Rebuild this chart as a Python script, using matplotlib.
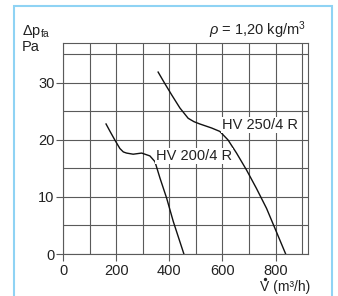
import matplotlib
matplotlib.use("Agg")
import matplotlib.pyplot as plt
from matplotlib.patches import Rectangle
from matplotlib.lines import Line2D

plt.rcParams['font.family'] = ['Liberation Sans', 'DejaVu Sans']
plt.rcParams['mathtext.fontset'] = 'custom'
plt.rcParams['mathtext.rm'] = 'Liberation Sans'
plt.rcParams['mathtext.it'] = 'Liberation Sans:italic'

# data
hv200_x = [162, 177, 195, 214, 227, 239, 264, 296, 327, 346, 365, 390, 415, 455]
hv200_y = [22.8, 21.5, 20.0, 18.5, 17.9, 17.7, 17.5, 17.7, 17.2, 16.2, 13.3, 9.8, 5.7, 0.0]
hv250_x = [358, 383, 409, 440, 471, 493, 515, 559, 590, 621, 653, 691, 728, 766, 803, 838]
hv250_y = [31.9, 29.9, 27.9, 25.6, 23.8, 23.2, 22.8, 22.1, 21.5, 20.0, 17.7, 14.7, 11.5, 8.0, 3.9, 0.0]
xticks = [0, 200, 400, 600, 800]
yticks = [0, 10, 20, 30]
labels = ["HV 200/4 R", "HV 250/4 R"]

fig = plt.figure(figsize=(3.38, 2.96), dpi=100)
fig.patches.append(Rectangle((13.5/338, -0.1), (331.5-13.5)/338, 1.1 - 5.5/296,
                             transform=fig.transFigure, fill=False,
                             edgecolor='#8fd3f4', linewidth=1.5))
ax = fig.add_axes([63/338, (296-254)/296, (308-63)/338, (254-43)/296])
ax.set_xlim(0, 922)
ax.set_ylim(0, 37)
ax.set_xticks(xticks)
ax.set_xticks([100, 300, 500, 700, 900], minor=True)
ax.set_yticks(yticks)
ax.set_yticks([5, 15, 25, 35], minor=True)
ax.grid(True, which='both', color='#5a5a5a', linewidth=0.8)
ax.tick_params(which='minor', length=0)
ax.tick_params(which='major', length=5, width=0.8, color='#5a5a5a', labelsize=10.5,
               labelcolor='#222222')
ax.tick_params(axis='y', pad=1)
ax.tick_params(axis='x', pad=2)
for s in ax.spines.values():
    s.set_color('#5a5a5a')
    s.set_linewidth(0.8)

ax.plot(hv200_x, hv200_y, color='#111111', linewidth=1.0, solid_joinstyle='round')
ax.plot(hv250_x, hv250_y, color='#111111', linewidth=1.0, solid_joinstyle='round')
ax.text(350, 17.2, labels[0], fontsize=10.5, color='#222222', va='center', ha='left',
        bbox=dict(facecolor='white', edgecolor='none', pad=0.5))
ax.text(597, 22.6, labels[1], fontsize=10.5, color='#222222', va='center', ha='left',
        bbox=dict(facecolor='white', edgecolor='none', pad=0.5))

fig.text(22/338, 1 - 35/296, r'$\Delta$p$_{\mathregular{fa}}$', fontsize=10.5, color='#222222',
         va='baseline')
fig.text(22/338, 1 - 51/296, 'Pa', fontsize=10.5, color='#222222', va='baseline')
fig.text(306/338, 1 - 35/296, r'$\rho$ = 1,20 kg/m$^3$', fontsize=10.5, color='#222222',
         va='baseline', ha='right')
fig.text(260/338, 1 - 291/296, 'V (m\u00b3/h)', fontsize=10, color='#222222',
         va='baseline', ha='left')
fig.add_artist(Line2D([265/338], [1 - 278.5/296], transform=fig.transFigure,
                      marker='o', markersize=1.4, color='#222222', linestyle='none'))

fig.savefig('out.png', dpi=100)
